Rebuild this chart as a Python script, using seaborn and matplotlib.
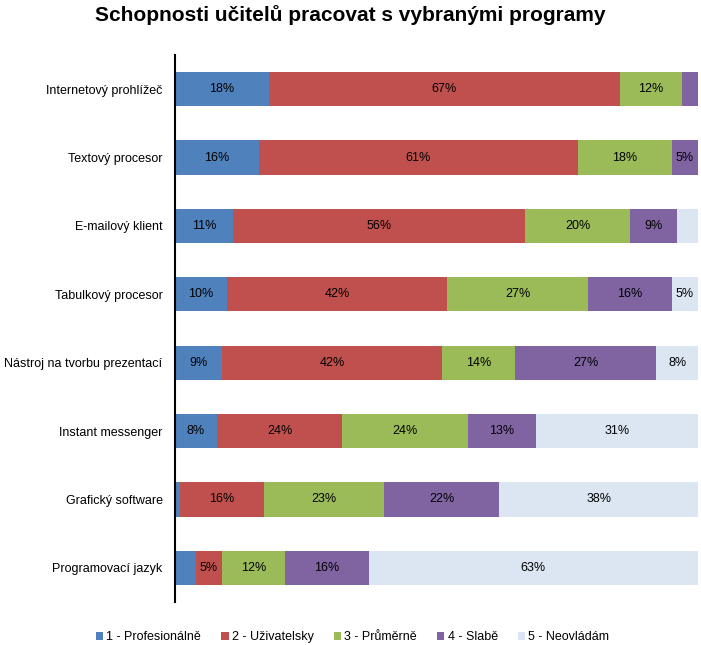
import numpy as np
import pandas as pd
import matplotlib
matplotlib.use("Agg")
import matplotlib.pyplot as plt
import seaborn as sns
from matplotlib.patches import Patch

categories = ["Internetový prohlížeč", "Textový procesor", "E-mailový klient",
              "Tabulkový procesor", "Nástroj na tvorbu prezentací",
              "Instant messenger", "Grafický software", "Programovací jazyk"]
series_names = ["1 - Profesionálně", "2 - Uživatelsky", "3 - Průměrně",
                "4 - Slabě", "5 - Neovládám"]
s1 = [18, 16, 11, 10, 9, 8, 1, 4]
s2 = [67, 61, 56, 42, 42, 24, 16, 5]
s3 = [12, 18, 20, 27, 14, 24, 23, 12]
s4 = [3, 5, 9, 16, 27, 13, 22, 16]
s5 = [0, 0, 4, 5, 8, 31, 38, 63]
colors = ["#4F81BD", "#C0504D", "#9BBB59", "#8064A2", "#DCE6F2"]

sns.set_theme(style="white")
plt.rcParams['font.family'] = ['Liberation Sans', 'DejaVu Sans']
plt.rcParams['text.color'] = 'black'
plt.rcParams['ytick.color'] = 'black'

series = [s1, s2, s3, s4, s5]
vals = np.array(series, dtype=float)
cum = np.cumsum(vals, axis=0)

fig = plt.figure(figsize=(7.01, 6.45), dpi=100)
ax = fig.add_axes([175/701, 1-602/645, (698-175)/701, (602-55)/645])

for i in range(len(series) - 1, -1, -1):
    df = pd.DataFrame({"cat": categories, "val": cum[i]})
    sns.barplot(data=df, x="val", y="cat", color=colors[i], width=0.5,
                ax=ax, saturation=1, linewidth=0, orient="h")

# labels
for i in range(len(series)):
    for j, cat in enumerate(categories):
        v = vals[i, j]
        if v >= 5:
            center = cum[i, j] - v / 2
            ax.text(center, j, f"{int(v)}%", ha="center", va="center",
                    fontsize=9, color="black")

ax.set_xlim(0, 100)
ax.set_ylim(len(categories) - 0.5, -0.5)
ax.set_xlabel("")
ax.set_ylabel("")
ax.set_xticks([])
ax.tick_params(axis="y", length=0, labelsize=9, pad=9, labelcolor="black")
for s in ["top", "right", "bottom"]:
    ax.spines[s].set_visible(False)
ax.spines["left"].set_color("black")
ax.spines["left"].set_linewidth(1.5)

fig.suptitle("Schopnosti učitelů pracovat s vybranými programy", x=0.5, y=0.992,
             fontsize=15, fontweight="bold", color="black")

handles = [Patch(facecolor=c, edgecolor="none") for c in colors]
fig.legend(handles, series_names, loc="center", bbox_to_anchor=(0.503, 1-637/645),
           ncol=5, frameon=False, fontsize=9, handlelength=0.6, handleheight=0.6,
           handletextpad=0.25, columnspacing=1.6, labelcolor="black")

fig.savefig("out.png", dpi=100)
